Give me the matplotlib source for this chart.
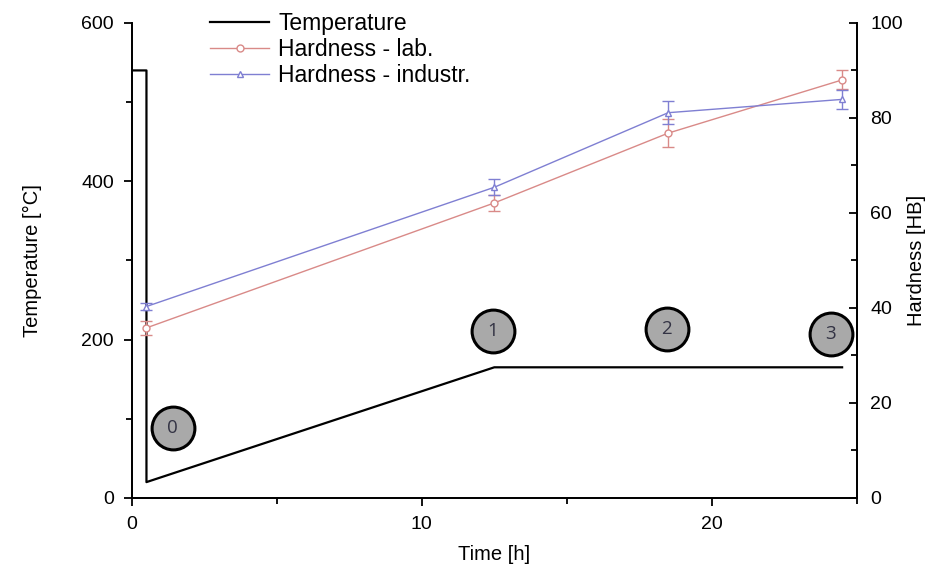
import matplotlib
matplotlib.use('Agg')
import matplotlib.pyplot as plt
from matplotlib.ticker import MultipleLocator
from matplotlib.lines import Line2D

plt.rcParams['font.family'] = ['Liberation Sans', 'DejaVu Sans']

# temperature profile
temp_t = [0, 0.5, 0.5, 12.5, 24.5]
temp_T = [540, 540, 20, 165, 165]

# hardness measurements
hard_t = [0.5, 12.5, 18.5, 24.5]
lab_hb = [35.8, 62.1, 76.8, 88.0]
lab_err = [1.5, 1.6, 3.0, 2.0]
ind_hb = [40.3, 65.4, 81.1, 83.9]
ind_err = [0.8, 1.7, 2.4, 2.0]

# numbered state markers (time, temperature)
mark_t = [1.4, 12.45, 18.45, 24.1]
mark_T = [88, 211, 214, 207]
mark_lbl = ['0', '1', '2', '3']

lab_col = '#d98a88'
ind_col = '#7f7fd2'

fig = plt.figure(figsize=(9.46, 5.73), dpi=100)
ax = fig.add_axes([0.1395, 0.131, 0.766, 0.829])
ax2 = ax.twinx()

ax.plot(temp_t, temp_T, color='black', lw=1.6)

ax.scatter(mark_t, mark_T, s=950, facecolor='#a9a9a9', edgecolor='black',
           linewidths=2.2, zorder=5, clip_on=False)
for t, T, s in zip(mark_t, mark_T, mark_lbl):
    ax.text(t, T, s, ha='center', va='center', fontsize=13.5, color='#333344',
            zorder=6, family=['Open Sans', 'DejaVu Sans'])

ax2.errorbar(hard_t, lab_hb, yerr=lab_err, color=lab_col, lw=1, marker='o',
             ms=5, mfc='white', mec=lab_col, capsize=4, elinewidth=1, clip_on=False)
ax2.errorbar(hard_t, ind_hb, yerr=ind_err, color=ind_col, lw=1, marker='^',
             ms=5, mfc='white', mec=ind_col, capsize=4, elinewidth=1, clip_on=False)

ax.set_xlim(0, 25)
ax.set_ylim(0, 600)
ax2.set_ylim(0, 100)

ax.xaxis.set_major_locator(MultipleLocator(10))
ax.xaxis.set_minor_locator(MultipleLocator(5))
ax.yaxis.set_major_locator(MultipleLocator(200))
ax.yaxis.set_minor_locator(MultipleLocator(100))
ax2.yaxis.set_major_locator(MultipleLocator(20))
ax2.yaxis.set_minor_locator(MultipleLocator(10))

for a in (ax, ax2):
    a.spines['top'].set_visible(False)
    for sp in a.spines.values():
        sp.set_linewidth(1.3)
ax.tick_params(which='both', direction='out', width=1.3, labelsize=14)
ax.tick_params(axis='y', pad=7)
ax.tick_params(axis='x', pad=7)
ax.tick_params(which='major', length=6)
ax.tick_params(which='minor', length=4)
ax2.tick_params(which='both', direction='in', width=1.3, labelsize=14, pad=10)
ax2.tick_params(which='major', length=6)
ax2.tick_params(which='minor', length=4)

ax.set_xlabel('Time [h]', fontsize=14.5, labelpad=9)
ax.set_ylabel('Temperature [°C]', fontsize=14.5, labelpad=28)
ax2.set_ylabel('Hardness [HB]', fontsize=14.5, labelpad=3)

handles = [
    Line2D([], [], color='black', lw=1.6),
    Line2D([], [], color=lab_col, lw=1, marker='o', ms=5, mfc='white', mec=lab_col),
    Line2D([], [], color=ind_col, lw=1, marker='^', ms=5, mfc='white', mec=ind_col),
]
fig.legend(handles, ['Temperature', 'Hardness - lab.', 'Hardness - industr.'],
           loc='upper left', bbox_to_anchor=(0.212, 0.995), frameon=False,
           fontsize=16.5, handlelength=2.6, handletextpad=0.4, labelspacing=0.12,
           borderaxespad=0)

fig.savefig('out.png', dpi=100)
